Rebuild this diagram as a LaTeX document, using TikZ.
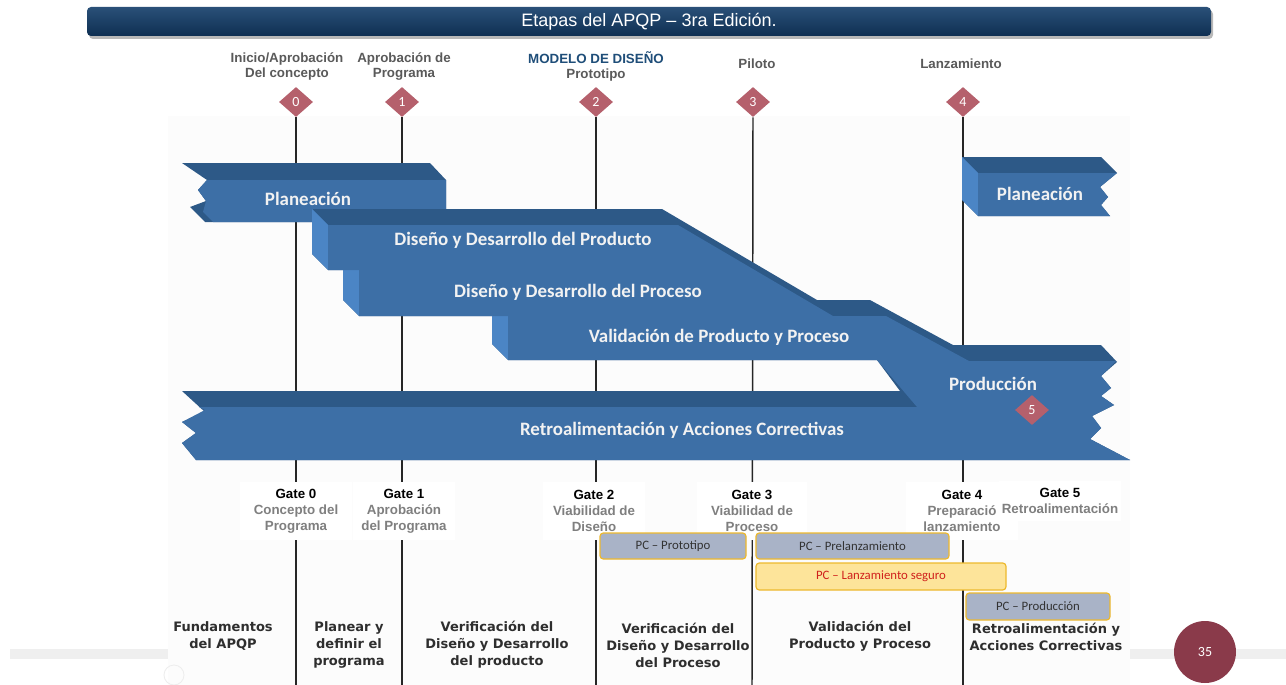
\documentclass[tikz,border=0pt]{standalone}
\usepackage{fontspec}
\setmainfont{Liberation Sans}
\newfontfamily\calfont{Carlito}
\newfontfamily\dejafont{DejaVu Sans}
\usetikzlibrary{shapes.geometric}

\definecolor{navytop}{HTML}{2A5078}
\definecolor{navybot}{HTML}{0E2F52}
\definecolor{bandtop}{HTML}{2D5987}
\definecolor{bandfront}{HTML}{3D6FA6}
\definecolor{bandside}{HTML}{4B85C5}
\definecolor{gemred}{HTML}{B5606C}
\definecolor{labgrey}{HTML}{5A5A5A}
\definecolor{descgrey}{HTML}{7F7F7F}
\definecolor{deepblue}{HTML}{1F4E79}
\definecolor{pcfill}{HTML}{A9B3C7}
\definecolor{pcgold}{HTML}{EDB92E}
\definecolor{pcyellow}{HTML}{FDE49A}
\definecolor{pcred}{HTML}{D0211C}
\definecolor{slidegrey}{HTML}{EFEFEF}
\definecolor{pagemaroon}{HTML}{8A3A4A}
\definecolor{panel}{HTML}{FCFCFC}
\definecolor{bottomtext}{HTML}{2E2E2E}

\begin{document}
\begin{tikzpicture}[x=0.75pt,y=-0.75pt,
  toplbl/.style={font=\bfseries\fontsize{10}{11.25}\selectfont,text=labgrey,align=center,inner sep=0pt},
  gemnode/.style={diamond,fill=gemred,minimum width=25.5pt,minimum height=22.5pt,inner sep=0pt,text=white,font=\calfont\fontsize{10.5}{10.5}\selectfont},
  gatebox/.style={fill=white,inner sep=0pt,align=center,font=\bfseries\fontsize{10}{12}\selectfont,text=descgrey},
  pcbox/.style={draw=pcgold,line width=0.9pt,rounded corners=2.5pt,fill=pcfill,inner sep=0pt,font=\calfont\fontsize{9.6}{10}\selectfont,text=black!80},
  bandtext/.style={text=white!95!black,font=\calfont\bfseries\fontsize{14.2}{16}\selectfont,inner sep=0pt},
  phase/.style={font=\dejafont\bfseries\fontsize{9.75}{12.75}\selectfont,text=bottomtext,align=center,inner sep=0pt},
  vline/.style={line width=1.1pt,black!85}
]
\useasboundingbox (0,0) rectangle (1286,685);
\fill[white] (0,0) rectangle (1286,685);

% picture panel and slide footer
\fill[panel] (168,116) rectangle (1130,685);
\fill[slidegrey] (10,649) rectangle (168,659);
\fill[slidegrey] (1130,649) rectangle (1286,659);
\draw[black!7,line width=0.6pt] (174,675) circle[radius=10];

% title bar
\fill[black,opacity=0.28,rounded corners=3pt] (89,10) rectangle (1213,39);
\node[minimum width=843pt,minimum height=21.75pt,rounded corners=3pt,
      top color=navytop,bottom color=navybot,text=white,
      font=\fontsize{13.5}{16}\selectfont] (title) at (649,21.5) {Etapas del APQP – 3ra Edición.};

% milestone labels
\node[toplbl] (m0) at (287,66) {Inicio/Aprobación\\Del concepto};
\node[toplbl] (m1) at (404,67) {Aprobación de\\Programa};
\node[toplbl] (m2) at (596,66) {\textcolor{deepblue}{MODELO DE DISEÑO}\\Prototipo};
\node[toplbl] (m3) at (757,64) {Piloto};
\node[toplbl] (m4) at (961,64) {Lanzamiento};

% milestone diamonds
\node[gemnode] (d0) at (296,102) {0};
\node[gemnode] (d1) at (402,102) {1};
\node[gemnode] (d2) at (596,102) {2};
\node[gemnode] (d3) at (753,102) {3};
\node[gemnode] (d4) at (963,102) {4};

% milestone lines
\coordinate (b0) at (296,685);
\coordinate (b1) at (402,685);
\coordinate (b2) at (596,685);
\coordinate (b3) at (752,685);
\coordinate (b4) at (963,685);
\draw[vline] (d0.south) -- (b0);
\draw[vline] (d1.south) -- (b1);
\draw[vline] (d2.south) -- (b2);
\draw[vline] (d3.south) -- (b3);
\draw[vline] (d4.south) -- (b4);

% ---- ribbons ----
% Planeacion (left)
\fill[bandtop] (182,163) -- (430,163) -- (446,180) -- (446,222) -- (205,222) -- (190,207)
  -- (206,201) -- (198,190) -- (207,180) -- cycle;
\fill[bandfront] (207,180) -- (446,180) -- (446,222) -- (213,222) -- (203,212)
  -- (206,201) -- (198,190) -- cycle;

% Planeacion (right)
\fill[bandtop] (962,157) -- (1101,157) -- (1117,173) -- (1100,187) -- (1108,197)
  -- (1101,205) -- (1110,216) -- (978,216) -- (962,200) -- cycle;
\fill[bandside] (962,157) -- (978,173) -- (978,216) -- (962,200) -- cycle;
\fill[bandfront] (978,173) -- (1117,173) -- (1100,187) -- (1108,197) -- (1101,205)
  -- (1110,216) -- (978,216) -- cycle;

% staircase, Produccion and Retroalimentacion: outer silhouette
\fill[bandtop] (312,209) -- (662,209) -- (817,300) -- (870,300) -- (953,345) -- (1101,345)
  -- (1117,362) -- (1101,376) -- (1111,388) -- (1101,396) -- (1114,405) -- (1092,416)
  -- (1101,428) -- (1090,439) -- (1130,460) -- (196,460) -- (182,443) -- (196,433)
  -- (182,422) -- (205,412) -- (182,391) -- (900,391) -- (877,360) -- (508,360)
  -- (492,344) -- (492,316) -- (359,316) -- (343,300) -- (343,270) -- (328,270)
  -- (312,254) -- cycle;
% side faces
\fill[bandside] (312,209) -- (328,225) -- (328,270) -- (312,254) -- cycle;
\fill[bandside] (343,254) -- (359,270) -- (359,316) -- (343,300) -- cycle;
\fill[bandside] (492,300) -- (508,316) -- (508,360) -- (492,344) -- cycle;
% front faces
\fill[bandfront] (328,225) -- (678,225) -- (833,316) -- (886,316) -- (969,361) -- (1116,361)
  -- (1101,376) -- (1111,388) -- (1101,396) -- (1114,405) -- (1092,416)
  -- (1101,428) -- (1090,439) -- (1130,460) -- (196,460) -- (182,443) -- (196,433)
  -- (182,422) -- (205,410) -- (199,407) -- (917,407) -- (877,360) -- (508,360)
  -- (508,316) -- (359,316) -- (359,270) -- (328,270) -- cycle;

% ribbon captions
\node[bandtext] (t1) at (308,199) {Planeación};
\node[bandtext] (t2) at (523,240) {Diseño y Desarrollo del Producto};
\node[bandtext] (t3) at (578,292) {Diseño y Desarrollo del Proceso};
\node[bandtext] (t4) at (719,337) {Validación de Producto y Proceso};
\node[bandtext] (t5) at (993,384) {Producción};
\node[bandtext] (t6) at (682,430) {Retroalimentación y Acciones Correctivas};
\node[bandtext] (t7) at (1040,194) {Planeación};
\node[gemnode] (d5) at (1032,410) {5};

% gates
\node[gatebox,minimum width=84pt,minimum height=44pt] (g0) at (296,511) {\textcolor{black}{Gate 0}\\Concepto del\\Programa};
\node[gatebox,minimum width=76pt,minimum height=44pt] (g1) at (404,511) {\textcolor{black}{Gate 1}\\Aprobación\\del Programa};
\node[gatebox,minimum width=76pt,minimum height=44pt] (g2) at (594,511) {\textcolor{black}{Gate 2}\\Viabilidad de\\Diseño};
\node[gatebox,minimum width=82pt,minimum height=44pt] (g3) at (752,511) {\textcolor{black}{Gate 3}\\Viabilidad de\\Proceso};
\node[gatebox,minimum width=84pt,minimum height=44pt] (g4) at (962,511) {\textcolor{black}{Gate 4}\\Preparació\\lanzamiento};
\node[gatebox,minimum width=92pt,minimum height=30pt] (g5) at (1060,501) {\textcolor{black}{Gate 5}\\Retroalimentación};

% program control plans
\node[pcbox,minimum width=109.5pt,minimum height=19.5pt] (pc1) at (673,546) {PC – Prototipo};
\node[pcbox,minimum width=144.75pt,minimum height=19.5pt] (pc2) at (852.5,546) {PC – Prelanzamiento};
\node[pcbox,fill=pcyellow,text=pcred,minimum width=187.5pt,minimum height=20.25pt] (pc3) at (881,576.5) {PC – Lanzamiento seguro};
\node[pcbox,minimum width=108pt,minimum height=20.25pt] (pc4) at (1038,606.5) {PC – Producción};

% phases
\node[phase] (p0) at (223,636.5) {Fundamentos\\del APQP};
\node[phase] (p1) at (349,645) {Planear y\\definir el\\programa};
\node[phase] (p2) at (497,645) {Verificación del\\Diseño y Desarrollo\\del producto};
\node[phase] (p3) at (678,645) {Verificación del\\Diseño y Desarrollo\\del Proceso};
\node[phase] (p4) at (860,636.5) {Validación del\\Producto y Proceso};
\node[phase] (p5) at (1046,636.5) {Retroalimentación y\\Acciones Correctivas};

% page number
\node[circle,fill=pagemaroon,minimum size=46.5pt,inner sep=0pt,text=white,
      font=\calfont\fontsize{10.5}{12}\selectfont] (page) at (1205,652) {35};
\end{tikzpicture}
\end{document}
